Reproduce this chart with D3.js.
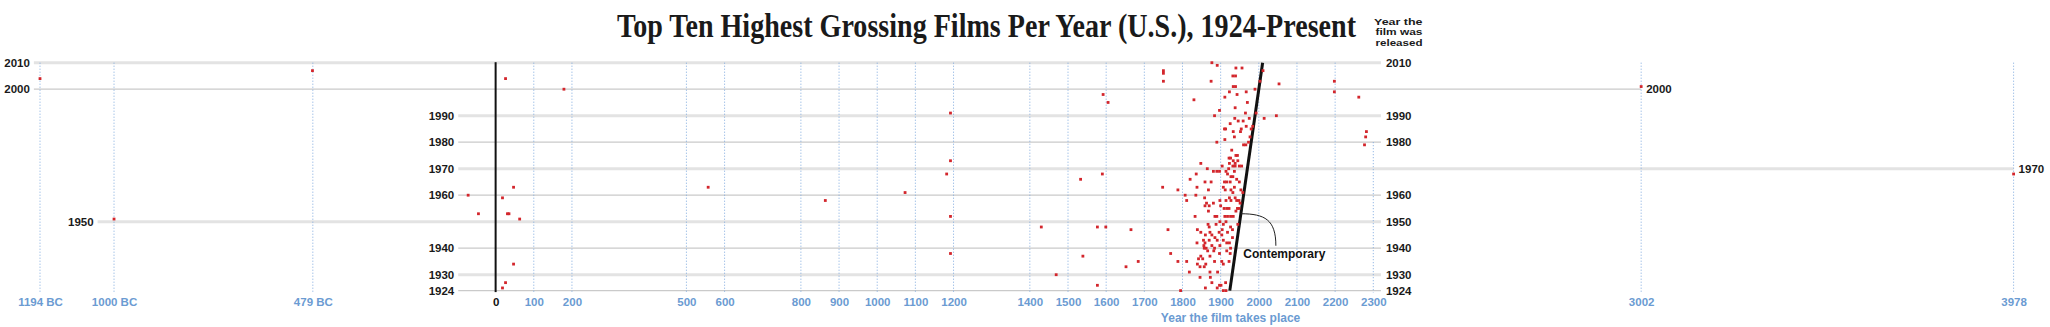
<!DOCTYPE html>
<html>
<head>
<meta charset="utf-8">
<script src="https://cdn.jsdelivr.net/npm/d3@7"></script>
<style>
  html, body { margin: 0; padding: 0; background: #fff; }
  svg { display: block; }
</style>
</head>
<body>
<svg id="chart" width="2050" height="327"></svg>
<script>
// ---------------- DATA ----------------
// Year the film takes place (negative = BC)
const settingYear = [
  -1194, -1000, -480, 3002, 3978,
  26, 179, 1192, 1192, 1182, 47, 557, -72, 18, 1073, 864, -45, 31, 35, 63, 1192, 1192, 47, 26, 18,
  1750, 1750, 1750, 1592, 1605, 2198, 2198, 2262, 2282, 2280, 2277, 1533, 1590, 1748, 1788, 1430, 1577, 1599, 1665, 1762, 1769, 1539, 1684, 1652, 1788, 1469, 1577, 1795,
  1877, 1891, 1940, 1956, 2011, 1932, 1939, 2003, 1875, 2053, 1933, 1939, 1990, 1967, 1923, 1943, 1911, 1830, 1970, 1938, 1897, 1884, 1993, 2046, 2014, 1965, 1937, 1975, 1946, 1925, 1959, 1967, 1984, 1910, 1913, 1954, 1980,
  1836, 1820, 1807, 1835, 1811, 1833, 1839, 1838, 1838,
  1933, 1952, 1936, 1911, 1890, 1977, 1960, 1966, 1973, 1929, 1940, 1944, 1922, 1926, 1933, 1938, 1945, 1923, 1949, 1955, 1932, 1938, 1904, 1865, 1881, 1890, 1897, 1914, 1921, 1848, 1927, 1932, 1918, 1936, 1942, 1910, 1916, 1925, 1949, 1859, 1875, 1907, 1936, 1953, 1958, 1927, 1932, 1868, 1898, 1912, 1914, 1923, 1927, 1938, 1942, 1948, 1951, 1858, 1863, 1859, 1881, 1870, 1868, 1885, 1890, 1900, 1909, 1916, 1922, 1911, 1918, 1926, 1933, 1944, 1948, 1940,
  1898, 1914, 1945, 1867, 1870, 1888, 1907, 1904, 1926, 1931, 1848, 1860, 1872, 1877, 1896, 1903, 1918, 1931, 1885, 1855, 1859, 1870, 1891, 1907, 1916, 1923, 1856, 1862, 1857, 1877, 1884, 1898, 1916, 1926, 1866, 1882, 1897, 1925, 1848, 1853, 1872, 1811, 1842, 1839, 1846, 1861, 1857, 1884, 1903, 1907, 1922, 1818, 1872, 1892, 1846, 1877, 1897, 1901, 1913, 1907, 1914, 1860, 1873, 1891
];
// Year the film was released
const releaseYear = [
  2004, 1951, 2007, 2001, 1968,
  2004, 2000, 1991, 1973, 1968, 1963, 1963, 1960, 1959, 1961, 1958, 1953, 1953, 1953, 1951, 1952, 1938, 1934, 1927, 1925,
  2007, 2006, 2003, 1998, 1995, 2003, 1999, 1997, 1984, 1982, 1979, 1966, 1968, 1963, 1962, 1948, 1948, 1948, 1947, 1947, 1938, 1937, 1935, 1933, 1935, 1930, 1926, 1924,
  2010, 2009, 2008, 2008, 2007, 2005, 2005, 2003, 2003, 2002, 2001, 2001, 2000, 1999, 1999, 1998, 1997, 1996, 1995, 1993, 1992, 1990, 1991, 1990, 1989, 1991, 1989, 1989, 1988, 1987, 1988, 1986, 1986, 1985, 1985, 1985, 1985,
  1968, 1966, 1960, 1960, 1958, 1952, 1947, 1942, 1963,
  1984, 1984, 1982, 1981, 1980, 1982, 1979, 1979, 1980, 1977, 1975, 1975, 1974, 1974, 1973, 1972, 1973, 1972, 1971, 1971, 1971, 1971, 1971, 1970, 1969, 1969, 1969, 1969, 1970, 1972, 1967, 1967, 1968, 1969, 1966, 1965, 1965, 1965, 1965, 1965, 1965, 1963, 1963, 1962, 1961, 1962, 1961, 1962, 1958, 1962, 1958, 1959, 1958, 1959, 1958, 1958, 1957, 1959, 1957, 1956, 1957, 1956, 1954, 1952, 1952, 1956, 1955, 1955, 1955, 1952, 1952, 1952, 1952, 1955, 1955, 1954,
  1950, 1950, 1949, 1949, 1948, 1949, 1949, 1947, 1948, 1947, 1946, 1945, 1946, 1945, 1946, 1945, 1946, 1944, 1944, 1943, 1942, 1943, 1943, 1943, 1942, 1942, 1941, 1940, 1940, 1941, 1940, 1941, 1939, 1940, 1939, 1939, 1938, 1938, 1937, 1936, 1937, 1935, 1936, 1934, 1933, 1934, 1933, 1935, 1935, 1934, 1935, 1931, 1931, 1931, 1929, 1927, 1926, 1926, 1927, 1924, 1924, 1925, 1929, 1925
];

// x axis ticks
const tickValues = [-1194, -1000, -479, 0, 100, 200, 500, 600, 800, 900, 1000, 1100, 1200,
  1400, 1500, 1600, 1700, 1800, 1900, 2000, 2100, 2200, 2300, 3002, 3978];
const tickLabels = ["1194 BC", "1000 BC", "479 BC", "0", "100", "200", "500", "600", "800", "900", "1000", "1100", "1200",
  "1400", "1500", "1600", "1700", "1800", "1900", "2000", "2100", "2200", "2300", "3002", "3978"];
const tickTopYear = [2010, 2010, 2010, 2010, 2010, 2010, 2010, 2010, 2010, 2010, 2010, 2010, 2010,
  2010, 2010, 2010, 2010, 2010, 2010, 2010, 2010, 2010, 1980, 2010, 2010];

// horizontal grid lines (release years) with their extent in setting years
const gridYears = [2010, 2000, 1990, 1980, 1970, 1960, 1950, 1940, 1930, 1924];
const gridStart = [-1210, -1210, -98, -98, -98, -98, -1043, -98, -98, -98];
const gridEnd   = [2320, 3002, 2320, 2320, 3978, 2320, 2320, 2320, 2320, 2320];
const gridHeavy = [true, false, true, false, true, false, true, false, true, false];

const contemporary = [1924, 2010];
const annotationYear = 1953;

// ---------------- DRAW ----------------
const svg = d3.select("#chart");
const W = 2050, H = 327;
svg.append("rect").attr("width", W).attr("height", H).attr("fill", "#fff");

const x = d3.scaleLinear().domain([-1194, 3978]).range([40, 2013.6]);
const y = d3.scaleLinear().domain([1924, 2010]).range([290.6, 62.7]);

const sans = "'Liberation Sans', Arial, Helvetica, sans-serif";

// Title: condensed by measuring, then stretched vertically so the box stays honest
const titleSize = 34.5, titleWidth = 739.5;
const title = svg.append("text")
  .attr("x", 0).attr("y", 0)
  .attr("font-family", "'Liberation Serif', 'DejaVu Serif', serif")
  .attr("font-weight", "bold")
  .attr("font-size", titleSize)
  .attr("fill", "#1a1a1a")
  .text("Top Ten Highest Grossing Films Per Year (U.S.), 1924-Present");
const natural = title.node().getComputedTextLength();
const fs = titleSize * titleWidth / natural;
title.attr("font-size", fs)
  .attr("transform", `translate(617, 36.7) scale(1, ${titleSize / fs})`);

const sideLines = ["Year the", "film was", "released"];
svg.append("g").selectAll("text").data(sideLines).join("text")
  .attr("x", (d, i) => i === 0 ? 1374 : 1375.5).attr("y", (d, i) => 24.5 + i * 10.5)
  .attr("font-family", sans).attr("font-weight", "bold").attr("font-size", 9.5)
  .attr("fill", "#1a1a1a")
  .attr("textLength", (d, i) => i === 0 ? 48.5 : 47)
  .attr("lengthAdjust", "spacingAndGlyphs")
  .text(d => d);

// horizontal grid lines
const grid = gridYears.map((g, i) => ({ year: g, start: gridStart[i], end: gridEnd[i], heavy: gridHeavy[i] }));
svg.append("g").selectAll("line").data(grid).join("line")
  .attr("x1", d => x(d.start)).attr("x2", d => x(d.end))
  .attr("y1", d => y(d.year)).attr("y2", d => y(d.year))
  .attr("stroke", d => d.heavy ? "#e3e3e3" : "#cacaca")
  .attr("stroke-width", d => d.heavy ? 3 : 1.3);

// left labels
svg.append("g").selectAll("text").data(grid).join("text")
  .attr("x", d => x(d.start) - 4).attr("y", d => y(d.year) + 4)
  .attr("text-anchor", "end")
  .attr("font-family", sans).attr("font-weight", "bold").attr("font-size", 11.5)
  .attr("fill", "#1a1a1a")
  .text(d => d.year);
// right labels
svg.append("g").selectAll("text").data(grid).join("text")
  .attr("x", d => x(d.end) + 5).attr("y", d => y(d.year) + 4)
  .attr("font-family", sans).attr("font-weight", "bold").attr("font-size", 11.5)
  .attr("fill", "#1a1a1a")
  .text(d => d.year);

// vertical tick lines
const ticks = tickValues.map((v, i) => ({ v, label: tickLabels[i], top: tickTopYear[i] }));
svg.append("g").selectAll("line").data(ticks.filter(d => d.v !== 0)).join("line")
  .attr("x1", d => x(d.v)).attr("x2", d => x(d.v))
  .attr("y1", d => y(d.top)).attr("y2", y(1924) + 2)
  .attr("stroke", "#7ea9de").attr("stroke-width", 1)
  .attr("stroke-dasharray", "1,2");

// zero axis
svg.append("line")
  .attr("x1", x(0)).attr("x2", x(0))
  .attr("y1", y(2010) - 0.5).attr("y2", y(1924) + 1.5)
  .attr("stroke", "#111").attr("stroke-width", 2);

// x axis labels via d3 axis
const axis = d3.axisBottom(x)
  .tickValues(tickValues)
  .tickFormat((d, i) => tickLabels[i])
  .tickSize(0).tickPadding(0);
const gAxis = svg.append("g").attr("transform", `translate(0, ${296})`).call(axis);
gAxis.select(".domain").remove();
gAxis.selectAll("text")
  .attr("dy", "0.75em")
  .attr("y", 1)
  .attr("font-family", sans).attr("font-weight", "bold").attr("font-size", 11.5)
  .attr("fill", d => d === 0 ? "#111" : "#6b9bd2");

// x axis title
svg.append("text")
  .attr("x", x(1926)).attr("y", 321.5)
  .attr("text-anchor", "middle")
  .attr("font-family", sans).attr("font-weight", "bold").attr("font-size", 12)
  .attr("fill", "#6b9bd2")
  .text("Year the film takes place");

// contemporary diagonal
svg.append("line")
  .attr("x1", x(contemporary[0])).attr("y1", y(contemporary[0]))
  .attr("x2", x(contemporary[1])).attr("y2", y(contemporary[1]))
  .attr("stroke", "#111").attr("stroke-width", 3);

// dots
const films = settingYear.map((s, i) => ({ s, r: releaseYear[i] }));
svg.append("g").selectAll("rect").data(films).join("rect")
  .attr("x", d => x(d.s) - 1.4).attr("y", d => y(d.r) - 1.4)
  .attr("width", 2.8).attr("height", 2.8)
  .attr("fill", "#d3262c");

// annotation
const ax = x(annotationYear), ay = y(annotationYear);
const ex = ax + 35, ey = ay + 32;
svg.append("path")
  .attr("d", `M${ax},${ay} C${ax + 24},${ay} ${ex},${ay + 6} ${ex},${ey}`)
  .attr("fill", "none").attr("stroke", "#222").attr("stroke-width", 1);
svg.append("text")
  .attr("x", ax + 2.5).attr("y", ay + 44)
  .attr("font-family", sans).attr("font-weight", "bold").attr("font-size", 12)
  .attr("fill", "#111")
  .text("Contemporary");
</script>
</body>
</html>
